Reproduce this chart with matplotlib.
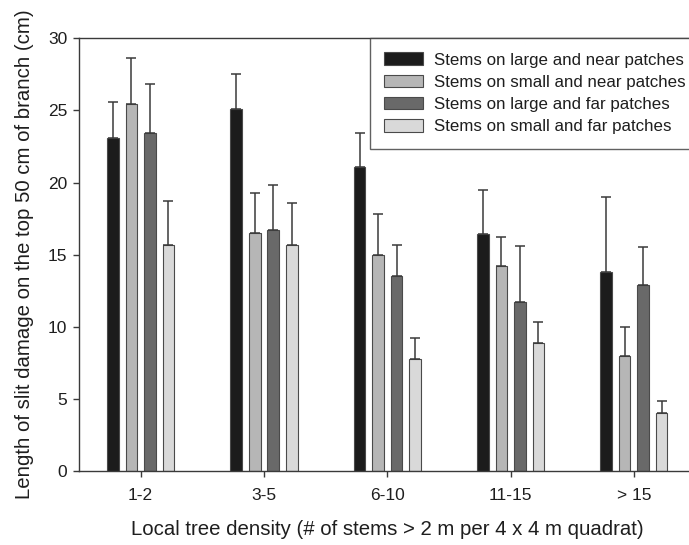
import numpy as np
import matplotlib
matplotlib.use('Agg')
import matplotlib.pyplot as plt
from matplotlib.patches import Patch

plt.rcParams['font.family'] = ['Liberation Sans', 'DejaVu Sans']

groups = ['1-2', '3-5', '6-10', '11-15', '> 15']
series = ['Stems on large and near patches',
          'Stems on small and near patches',
          'Stems on large and far patches',
          'Stems on small and far patches']
means = [
    [23.1, 25.1, 21.1, 16.45, 13.8],
    [25.45, 16.5, 14.95, 14.2, 8.0],
    [23.4, 16.7, 13.5, 11.75, 12.9],
    [15.7, 15.7, 7.75, 8.9, 4.05],
]
# upper end of each error bar
tops = [
    [25.6, 27.5, 23.4, 19.5, 19.0],
    [28.6, 19.3, 17.8, 16.25, 9.95],
    [26.8, 19.8, 15.7, 15.6, 15.5],
    [18.7, 18.6, 9.2, 10.3, 4.85],
]
colors = ['#1c1c1c', '#b6b6b6', '#696969', '#d9d9d9']

fig = plt.figure(figsize=(6.89, 5.45), dpi=100)
ax = fig.add_axes([79/689, 1-471/545, 616.6/689, 432.7/545])

x = np.arange(len(groups))
w = 0.094
step = 0.15
for i in range(4):
    xi = x + (i - 1.5) * step
    m = np.array(means[i])
    err = np.array(tops[i]) - m
    ax.bar(xi, m, width=w, color=colors[i], edgecolor='#4a4a4a', linewidth=0.8, zorder=2)
    ax.errorbar(xi, m, yerr=[np.zeros_like(err), err], fmt='none', ecolor='#3a3a3a',
                elinewidth=1.1, capsize=3.5, capthick=1.1, zorder=3)

ax.set_xlim(-0.5, 4.5)
ax.set_ylim(0, 30)
ax.set_yticks([0, 5, 10, 15, 20, 25, 30])
ax.set_xticks(x)
ax.set_xticklabels(groups)
ax.spines['right'].set_visible(False)
for s in ['left', 'bottom', 'top']:
    ax.spines[s].set_color('#3a3a3a')
    ax.spines[s].set_linewidth(1.0)
ax.tick_params(axis='both', direction='out', length=4.5, width=1.0, color='#3a3a3a',
               labelsize=12.5, labelcolor='#1e1e1e')
ax.tick_params(axis='x', pad=8)
ax.tick_params(axis='y', pad=4)

ax.set_xlabel('Local tree density (# of stems > 2 m per 4 x 4 m quadrat)',
              fontsize=14.7, color='#1e1e1e', labelpad=12)
ax.set_ylabel('Length of slit damage on the top 50 cm of branch (cm)',
              fontsize=14.7, color='#1e1e1e', labelpad=10)

handles = [Patch(facecolor=colors[i], edgecolor='#4a4a4a', linewidth=0.8) for i in range(4)]
leg = fig.legend(handles, series, loc='upper left', bbox_to_anchor=(370/689, 1-38/545),
                 fontsize=12.2, frameon=True, fancybox=False, handlelength=2.3,
                 handleheight=0.75, handletextpad=0.6, labelspacing=0.42,
                 borderpad=0.85, borderaxespad=0)
leg.get_frame().set_edgecolor('#3a3a3a')
leg.get_frame().set_linewidth(1.0)
for t in leg.get_texts():
    t.set_color('#1e1e1e')

fig.savefig('out.png', dpi=100)
